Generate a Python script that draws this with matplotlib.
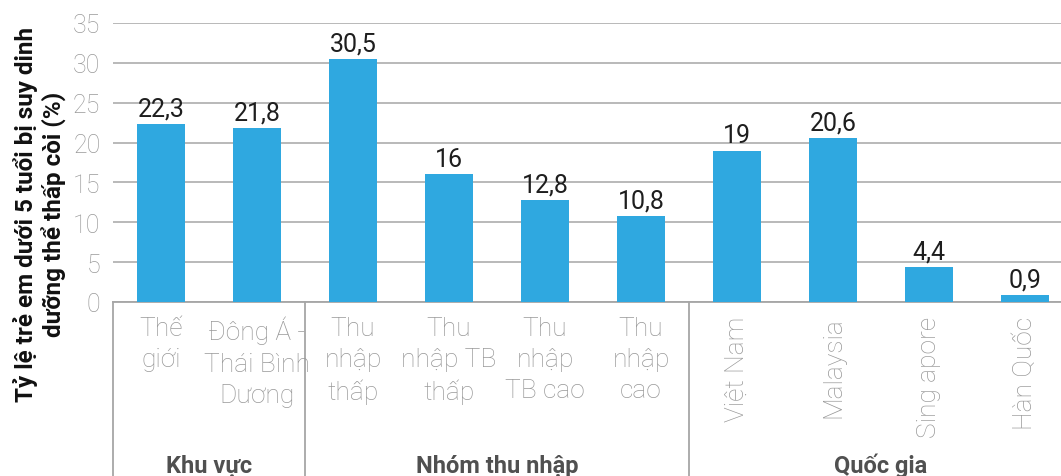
import matplotlib
matplotlib.use("Agg")
import matplotlib.pyplot as plt
from matplotlib import font_manager
from matplotlib.transforms import blended_transform_factory

# Chart data
categories = ["Thế\ngiới", "Đông Á -\nThái Bình\nDương", "Thu\nnhập\nthấp",
              "Thu\nnhập TB\nthấp", "Thu\nnhập\nTB cao", "Thu\nnhập\ncao",
              "Việt Nam", "Malaysia", "Sing apore", "Hàn Quốc"]
values = [22.3, 21.8, 30.5, 16, 12.8, 10.8, 19, 20.6, 4.4, 0.9]
rotated = [False] * 6 + [True] * 4
groups = ["Khu vực", "Nhóm thu nhập", "Quốc gia"]
group_spans = [(0, 1), (2, 5), (6, 9)]
yticks = [0, 5, 10, 15, 20, 25, 30, 35]
ylabel = "Tỷ lệ trẻ em dưới 5 tuổi bị suy dinh\ndưỡng thể thấp còi (%)"

names = {f.name for f in font_manager.fontManager.ttflist}
narrow = "Liberation Sans Narrow" if "Liberation Sans Narrow" in names else "Roboto"

plt.rcParams["font.family"] = ["Roboto", "DejaVu Sans"]

W, H = 1061, 477
fig = plt.figure(figsize=(W / 100, H / 100), dpi=100)
ax = fig.add_axes([113 / W, (H - 303) / H, (W - 113) / W, (303 - 24) / H])

bar_color = "#2FA8E0"
grid_color = "#A6A6A6"
label_gray = "#999999"
x = list(range(len(values)))
ax.bar(x, values, width=0.5, color=bar_color, zorder=3)

ax.set_ylim(0, 35)
ax.set_xlim(-0.5, (W - 113) / 96 - 0.5)
ax.set_yticks(yticks)
ax.set_yticklabels([str(t) for t in yticks], fontsize=18, color=label_gray,
                   fontweight="light")
ax.tick_params(axis="y", length=0, pad=9)
ax.set_xticks([])
ax.yaxis.grid(True, color=grid_color, linewidth=1.1, zorder=0)
for s in ["top", "right", "left"]:
    ax.spines[s].set_visible(False)
ax.spines["bottom"].set_color(grid_color)
ax.spines["bottom"].set_linewidth(1.3)

# value labels above bars
for xi, v in zip(x, values):
    ax.text(xi, v + 0.45, f"{v:g}".replace(".", ","), ha="center", va="bottom",
            fontsize=18, family=narrow, color="#1E1E1E")

# category labels under the axis
tr = blended_transform_factory(ax.transData, ax.transAxes)
for xi, lab, rot in zip(x, categories, rotated):
    if rot:
        ax.text(xi, -0.05, lab, transform=tr, rotation=90, ha="center", va="top",
                fontsize=19, color=label_gray, fontweight="light")
    else:
        ax.text(xi, -0.05, lab, transform=tr, ha="center", va="top",
                fontsize=19, color=label_gray, fontweight="light",
                linespacing=1.38)

# group separators and names
for xs in [-0.5, 1.5, 5.5]:
    ax.plot([xs, xs], [0, -0.7], transform=tr, color=grid_color, lw=1.3,
            clip_on=False)
for g, (a, b) in zip(groups, group_spans):
    ax.text((a + b) / 2, -0.585, g, transform=tr, ha="center", va="center",
            fontsize=17, fontweight="bold", color="#505050")

fig.text(40 / W, 0.55, ylabel, rotation=90, ha="center", va="center",
         fontsize=17.5, fontweight="bold", color="#111111", linespacing=1.2)

fig.savefig("out.png", dpi=100)
